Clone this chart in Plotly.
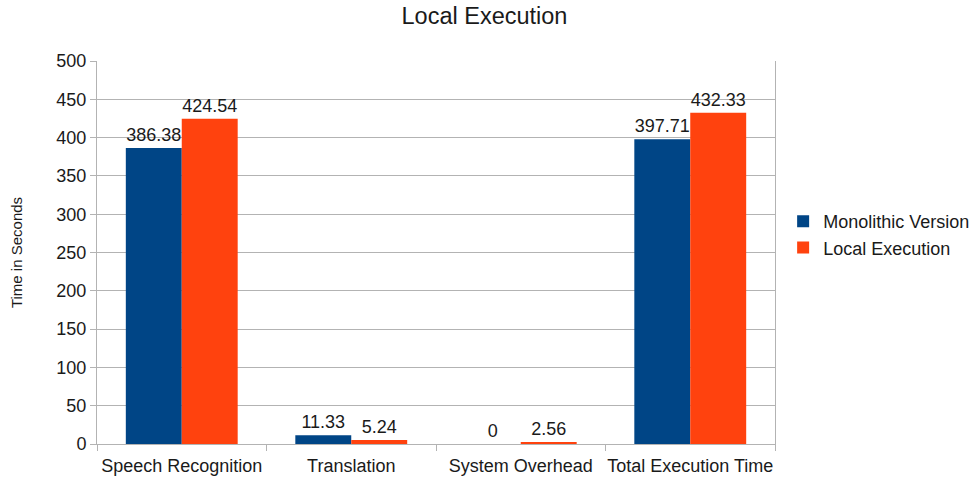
import plotly.graph_objects as go

categories = ["Speech Recognition", "Translation", "System Overhead", "Total Execution Time"]
monolithic = [386.38, 11.33, 0, 397.71]
local_exec = [424.54, 5.24, 2.56, 432.33]
y_ticks = list(range(0, 501, 50))

font = "Liberation Sans, Arial, sans-serif"
txt = "#1a1a1a"

fig = go.Figure()
fig.add_trace(go.Bar(
    x=categories, y=monolithic, name="Monolithic Version",
    marker=dict(color="#004586", line=dict(width=0)),
    text=[f"{v:g}" for v in monolithic], textposition="outside",
    textfont=dict(size=18, color=txt), cliponaxis=False,
))
fig.add_trace(go.Bar(
    x=categories, y=local_exec, name="Local Execution",
    marker=dict(color="#ff420e", line=dict(width=0)),
    text=[f"{v:g}" for v in local_exec], textposition="outside",
    textfont=dict(size=18, color=txt), cliponaxis=False,
))

fig.update_layout(
    width=969, height=480,
    margin=dict(l=97, r=194, t=61, b=36, autoexpand=False),
    paper_bgcolor="white", plot_bgcolor="white",
    font=dict(family=font, size=18, color=txt),
    title=dict(text="Local Execution", x=0.5, xref="container", xanchor="center",
               y=0.985, yanchor="top", font=dict(size=23.5, color=txt)),
    barmode="group", bargap=0.34, bargroupgap=0,
    showlegend=True,
    legend=dict(x=1.012, y=0.547, xanchor="left", yanchor="middle",
                font=dict(size=18), itemwidth=30, tracegroupgap=0),
    uniformtext=dict(mode=False),
)
fig.update_xaxes(
    showgrid=False, showline=True, linecolor="#b3b3b3", linewidth=1,
    ticks="outside", tickson="boundaries", ticklen=6, tickcolor="#b3b3b3",
    tickfont=dict(size=18, color=txt), tickangle=0, automargin=False,
    ticklabelstandoff=5,
)
fig.update_yaxes(
    range=[0, 500], tickvals=y_ticks, showgrid=True, gridcolor="#b3b3b3",
    showline=True, linecolor="#b3b3b3", mirror=True, zeroline=False,
    ticks="outside", ticklen=6, tickcolor="#b3b3b3", automargin=False,
    tickfont=dict(size=18, color=txt),
    title=dict(text="Time in Seconds", font=dict(size=15, color=txt), standoff=30),
)

fig.write_html("out.html")
